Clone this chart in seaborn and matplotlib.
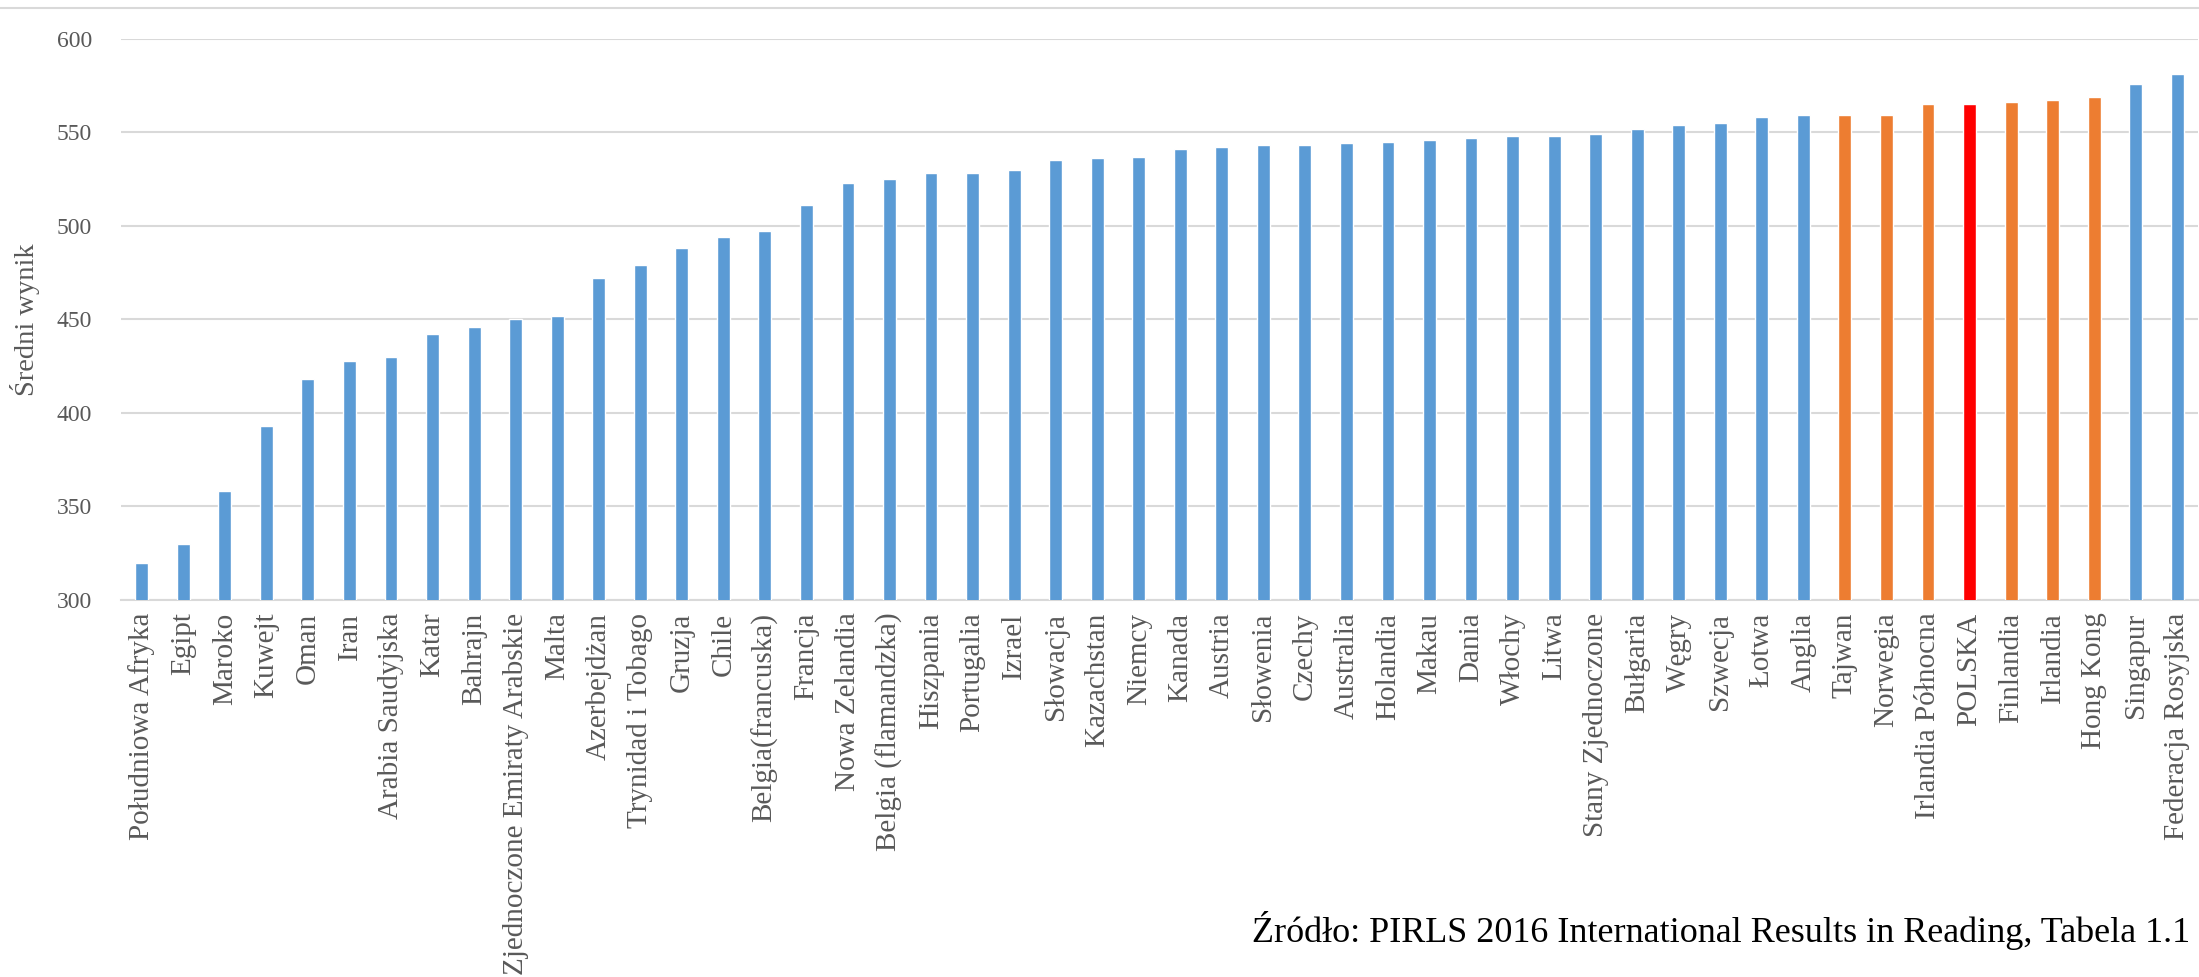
import matplotlib
matplotlib.use("Agg")
import matplotlib.pyplot as plt
import seaborn as sns
import pandas as pd
from matplotlib.lines import Line2D

countries = ["Południowa Afryka", "Egipt", "Maroko", "Kuwejt", "Oman", "Iran",
             "Arabia Saudyjska", "Katar", "Bahrajn", "Zjednoczone Emiraty Arabskie",
             "Malta", "Azerbejdżan", "Trynidad i Tobago", "Gruzja", "Chile",
             "Belgia(francuska)", "Francja", "Nowa Zelandia", "Belgia (flamandzka)",
             "Hiszpania", "Portugalia", "Izrael", "Słowacja", "Kazachstan", "Niemcy",
             "Kanada", "Austria", "Słowenia", "Czechy", "Australia", "Holandia",
             "Makau", "Dania", "Włochy", "Litwa", "Stany Zjednoczone", "Bułgaria",
             "Węgry", "Szwecja", "Łotwa", "Anglia", "Tajwan", "Norwegia",
             "Irlandia Północna", "POLSKA", "Finlandia", "Irlandia", "Hong Kong",
             "Singapur", "Federacja Rosyjska"]
scores = [320, 330, 358, 393, 418, 428, 430, 442, 446, 450, 452, 472, 479, 488,
          494, 497, 511, 523, 525, 528, 528, 530, 535, 536, 537, 541, 542, 543,
          543, 544, 545, 546, 547, 548, 548, 549, 552, 554, 555, 558, 559, 559,
          559, 565, 565, 566, 567, 569, 576, 581]
groups = ["other"] * 41 + ["near", "near", "near", "pl", "near", "near", "near", "other", "other"]

group_colors = {"other": "#5B9BD5", "near": "#ED7D31", "pl": "#FF0000"}

ylabel = "Średni wynik"
source = "Źródło: PIRLS 2016 International Results in Reading, Tabela 1.1"
yticks = [300, 350, 400, 450, 500, 550, 600]

df = pd.DataFrame({"kraj": countries, "wynik": scores, "grupa": groups})

sns.set_theme(style="white")
plt.rcParams["font.family"] = ["Liberation Serif", "DejaVu Serif"]

fig = plt.figure(figsize=(21.99, 9.77), dpi=100)
ax = fig.add_axes([121 / 2199, 1 - 600 / 977, (2198 - 121) / 2199, (600 - 38.7) / 977])

palette = {c: group_colors[g] for c, g in zip(countries, groups)}
sns.barplot(data=df, x="kraj", y="wynik", hue="kraj", palette=palette, order=countries,
            hue_order=countries, legend=False, width=0.31, saturation=1, ax=ax, zorder=3)

ax.set_ylim(300, 600)
ax.set_xlim(-0.5, len(countries) - 0.5)
ax.set_yticks(yticks)
ax.set_yticklabels([str(t) for t in yticks], fontsize=17, color="#595959")
ax.yaxis.grid(True, color="#D9D9D9", linewidth=1.5, zorder=0)
ax.set_axisbelow(True)
for s in ["top", "right", "left"]:
    ax.spines[s].set_visible(False)
ax.spines["bottom"].set_color("#D9D9D9")
ax.spines["bottom"].set_linewidth(1.5)
ax.tick_params(axis="y", length=0, pad=21)
ax.tick_params(axis="x", length=0, pad=9)
ax.set_xticks(range(len(countries)))
ax.set_xticklabels(countries, rotation=90, fontsize=21, color="#595959", va="top", ha="center")
ax.set_xlabel("")
ax.set_ylabel(ylabel, fontsize=20.5, color="#595959", va="center")
ax.yaxis.set_label_coords(-(121 - 25) / 2077, 0.5)

fig.text(2190 / 2199, 1 - 930 / 977, source, fontsize=26, color="black", ha="right", va="center")
fig.add_artist(Line2D([0, 1], [1 - 8 / 977, 1 - 8 / 977], color="#D9D9D9", linewidth=1.5,
                      transform=fig.transFigure))

fig.savefig("out.png", dpi=100)
